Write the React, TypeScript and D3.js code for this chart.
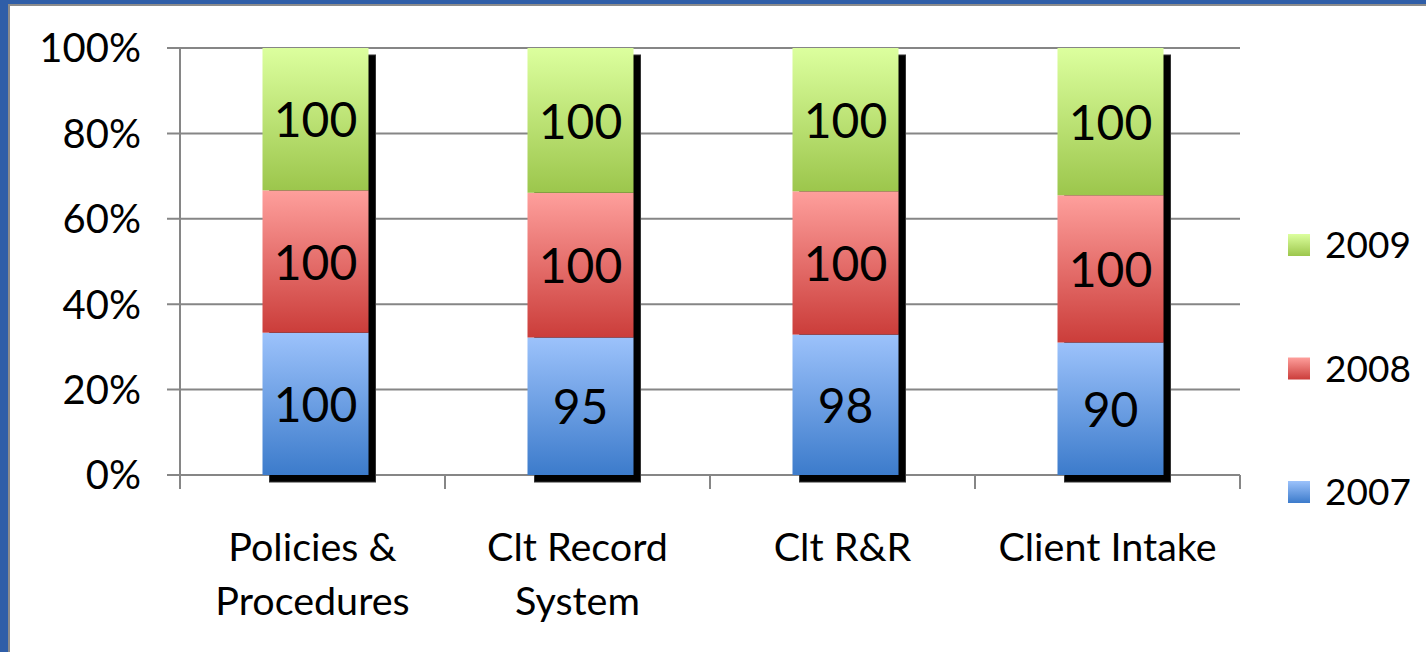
import React from "react";
import * as d3 from "d3";

const categories = ["Policies & Procedures", "Clt Record System", "Clt R&R", "Client Intake"];
const categoryLines = [["Policies &", "Procedures"], ["Clt Record", "System"], ["Clt R&R"], ["Client Intake"]];
const seriesNames = ["2007", "2008", "2009"];
const values2007 = [100, 95, 98, 90];
const values2008 = [100, 100, 100, 100];
const values2009 = [100, 100, 100, 100];
const yTicks = [0, 0.2, 0.4, 0.6, 0.8, 1.0];

const gradients = [
  { id: "g2007", top: "#9cc2fb", bottom: "#3c7bcb" },
  { id: "g2008", top: "#fe9f9c", bottom: "#cb3d3a" },
  { id: "g2009", top: "#dcff9e", bottom: "#9cc64c" },
];

const W = 1426;
const H = 652;
const FONT = "Lato, Carlito, Calibri, 'Open Sans', sans-serif";

export default function App() {
  const rows = categories.map((c, i) => ({
    cat: c,
    "2007": values2007[i],
    "2008": values2008[i],
    "2009": values2009[i],
  }));
  const stack = d3.stack<any>().keys(seriesNames).offset(d3.stackOffsetExpand);
  const stacked = stack(rows);

  const x0 = 180, x1 = 1240;
  const yBottom = 475, yTop = 48;
  const x = d3.scaleBand<string>().domain(categories).range([x0, x1]).paddingInner(0.6).paddingOuter(0.3);
  const step = (x1 - x0) / categories.length;
  const y = d3.scaleLinear().domain([0, 1]).range([yBottom, yTop]);
  const barShift = 3;
  const grid = "#868686";

  return (
    <svg width={W} height={H} style={{ position: "absolute", left: 0, top: 0, background: "#fff" }} fontFamily={FONT}>
      <defs>
        {gradients.map((g) => (
          <linearGradient key={g.id} id={g.id} x1="0" y1="0" x2="0" y2="1">
            <stop offset="0%" stopColor={g.top} />
            <stop offset="100%" stopColor={g.bottom} />
          </linearGradient>
        ))}
      </defs>
      {/* frame */}
      <rect x={0} y={0} width={W} height={H} fill="#fff" />
      <rect x={0} y={0} width={W} height={4} fill="#2f5ea8" />
      <rect x={0} y={0} width={8} height={H} fill="#2f5ea8" />
      <rect x={8} y={4} width={W - 8} height={2} fill="#8c8c8c" />
      <rect x={8} y={4} width={2} height={H - 4} fill="#8c8c8c" />

      {/* gridlines */}
      {yTicks.map((t) => (
        <line key={t} x1={167} x2={x1} y1={y(t)} y2={y(t)} stroke={grid} strokeWidth={2} />
      ))}
      <line x1={x0} x2={x0} y1={yTop} y2={yBottom} stroke={grid} strokeWidth={2} />
      {d3.range(categories.length + 1).map((i) => (
        <line key={i} x1={x0 + i * step} x2={x0 + i * step} y1={yBottom} y2={489} stroke={grid} strokeWidth={2} />
      ))}

      {/* y tick labels */}
      {yTicks.map((t) => (
        <text key={t} x={141} y={y(t)} dy="0.36em" textAnchor="end" fontSize={40} fill="#000">
          {d3.format(".0%")(t)}
        </text>
      ))}

      {/* shadows */}
      {categories.map((c) => (
        <rect key={c} x={(x(c) as number) + barShift + 7} y={yTop + 7} width={x.bandwidth()} height={yBottom - yTop}
          fill="#000" stroke="#333" strokeWidth={1} />
      ))}

      {/* bars */}
      {stacked.map((s, si) => (
        <g key={s.key}>
          {s.map((d, i) => (
            <rect key={i} x={(x(categories[i]) as number) + barShift} y={y(d[1])} width={x.bandwidth()}
              height={y(d[0]) - y(d[1])} fill={`url(#${gradients[si].id})`} />
          ))}
        </g>
      ))}

      {/* bar labels */}
      {stacked.map((s) => (
        <g key={s.key}>
          {s.map((d, i) => (
            <text key={i} x={(x(categories[i]) as number) + barShift + x.bandwidth() / 2} y={(y(d[0]) + y(d[1])) / 2}
              dy="0.38em" textAnchor="middle" fontSize={48} fill="#000">
              {(d.data as any)[s.key]}
            </text>
          ))}
        </g>
      ))}

      {/* category labels */}
      {categories.map((c, i) => (
        <text key={c} x={(x(c) as number) + x.bandwidth() / 2} y={561} textAnchor="middle" fontSize={39.5} fill="#000">
          {categoryLines[i].map((l, li) => (
            <tspan key={li} x={(x(c) as number) + x.bandwidth() / 2} dy={li === 0 ? 0 : 54}>{l}</tspan>
          ))}
        </text>
      ))}

      {/* legend */}
      {[...seriesNames].reverse().map((n, i) => {
        const gi = seriesNames.indexOf(n);
        const cy = 245 + i * 123.5;
        return (
          <g key={n}>
            <rect x={1288} y={cy - 11} width={22} height={22} fill={`url(#${gradients[gi].id})`} />
            <text x={1325} y={cy} dy="0.36em" fontSize={37} fill="#000">{n}</text>
          </g>
        );
      })}
    </svg>
  );
}
